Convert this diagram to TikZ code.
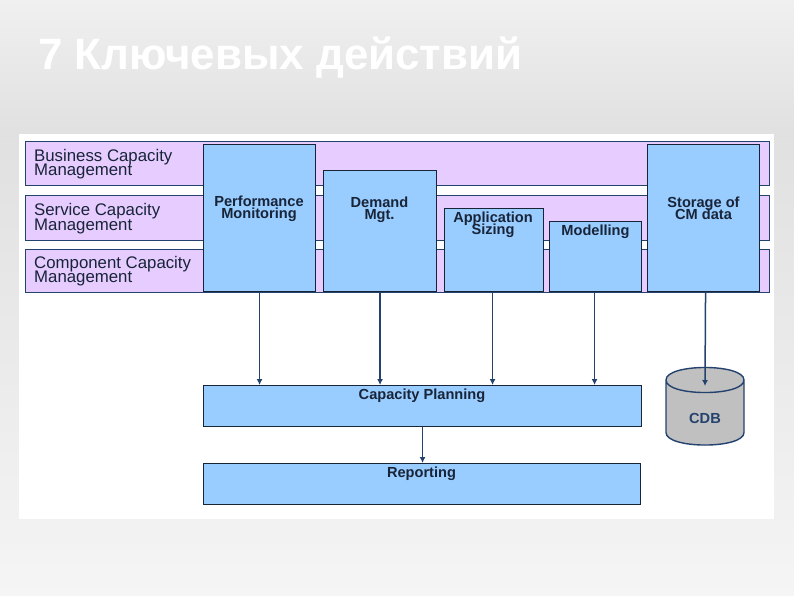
\documentclass[tikz,border=0pt]{standalone}
\usepackage{xcolor}
\usepackage{fontspec}
\setmainfont{Liberation Sans}
\usetikzlibrary{arrows.meta}
\definecolor{bandlilac}{RGB}{230,204,255}
\definecolor{boxblue}{RGB}{153,204,255}
\definecolor{cdbgray}{RGB}{192,192,192}
\definecolor{linenavy}{RGB}{36,66,110}
\definecolor{inkdark}{RGB}{24,36,56}
\setlength{\lineskiplimit}{-20pt}
\setlength{\normallineskiplimit}{-20pt}

\begin{document}
\begin{tikzpicture}[
  x=1pt, y=-1pt,
  band/.style={draw=linenavy, line width=1.4pt, fill=bandlilac, anchor=north west, inner sep=0pt},
  taskbox/.style={draw=inkdark, line width=1.1pt, fill=boxblue, anchor=north west, inner sep=0pt},
  bandtext/.style={font=\fontsize{16.8}{14.4}\selectfont, text=inkdark, align=left, anchor=north west, inner sep=0pt},
  tasktext/.style={font=\fontsize{14.6}{12}\selectfont\bfseries, text=inkdark, align=center, inner sep=0pt},
  flow/.style={draw=linenavy, line width=1.5pt, -{Latex[length=6pt, width=6pt]}}
]
\useasboundingbox (0,0) rectangle (794,595);
%% Slide background and title
\shade[top color=black!6, bottom color=black!12] (0,0) rectangle (794,135);
\shade[top color=black!12, bottom color=black!4] (0,135) rectangle (794,595);
\fill[white] (19,134) rectangle (774,519);
\node[font=\fontsize{43.9}{44}\selectfont\bfseries, text=white, anchor=base west, inner sep=0pt] (title) at (38,69) {7 Ключевых действий};

%% Capacity management bands
\node[band, minimum width=744pt, minimum height=44pt] (business) at (25,141) {};
\node[band, minimum width=744pt, minimum height=45pt] (service) at (25,195) {};
\node[band, minimum width=744pt, minimum height=43pt] (component) at (25,249) {};
\node[bandtext] (businesstext) at (34,149) {Business Capacity\\Management};
\node[bandtext] (servicetext) at (34,203.5) {Service Capacity\\Management};
\node[bandtext] (componenttext) at (34,256) {Component Capacity\\Management};

%% Activity boxes
\node[taskbox, minimum width=112pt, minimum height=147pt] (perf) at (203,144) {};
\node[taskbox, minimum width=113pt, minimum height=121pt] (demand) at (323,170) {};
\node[taskbox, minimum width=99pt, minimum height=83pt] (sizing) at (444,208) {};
\node[taskbox, minimum width=92pt, minimum height=70pt] (modelling) at (549,221) {};
\node[taskbox, minimum width=112pt, minimum height=147pt] (storage) at (647,144) {};
\node[tasktext] (perftext) at (259,209) {Performance\\Monitoring};
\node[tasktext] (demandtext) at (379.5,209.5) {Demand\\Mgt.};
\node[tasktext] (sizingtext) at (493,225) {Application\\Sizing};
\node[tasktext] (modellingtext) at (595.5,231.5) {Modelling};
\node[tasktext] (storagetext) at (703.5,208) {Storage of\\CM data};

%% Planning and reporting
\node[taskbox, minimum width=438pt, minimum height=41pt] (planning) at (203,385) {};
\node[taskbox, minimum width=437pt, minimum height=41pt] (reporting) at (203,463) {};
\node[tasktext] (planningtext) at (422,396) {Capacity Planning};
\node[tasktext] (reportingtext) at (421.5,474) {Reporting};

%% CDB store
\draw[draw=linenavy, line width=1.4pt, fill=cdbgray] (666,380) -- (666,432.5)
  .. controls (666,449.2) and (744,449.2) .. (744,432.5) -- (744,380)
  .. controls (744,363.3) and (666,363.3) .. (666,380)
  .. controls (666,396.7) and (744,396.7) .. (744,380);
\node[tasktext, text=linenavy] (cdbtext) at (705,418) {CDB};
\coordinate (cdbend) at (705,386);

%% Flows
\draw[flow] (perf.south) -- (perf.south |- planning.north);
\draw[flow] (demand.south) -- (demand.south |- planning.north);
\draw[flow] ([xshift=-1.5pt]sizing.south) -- ([xshift=-1.5pt]sizing.south |- planning.north);
\draw[flow] ([xshift=-1pt]modelling.south) -- ([xshift=-1pt]modelling.south |- planning.north);
\draw[flow] ([xshift=2pt]storage.south) -- (cdbend);
\draw[flow] (planning.south) -- (planning.south |- reporting.north);
\end{tikzpicture}
\end{document}
